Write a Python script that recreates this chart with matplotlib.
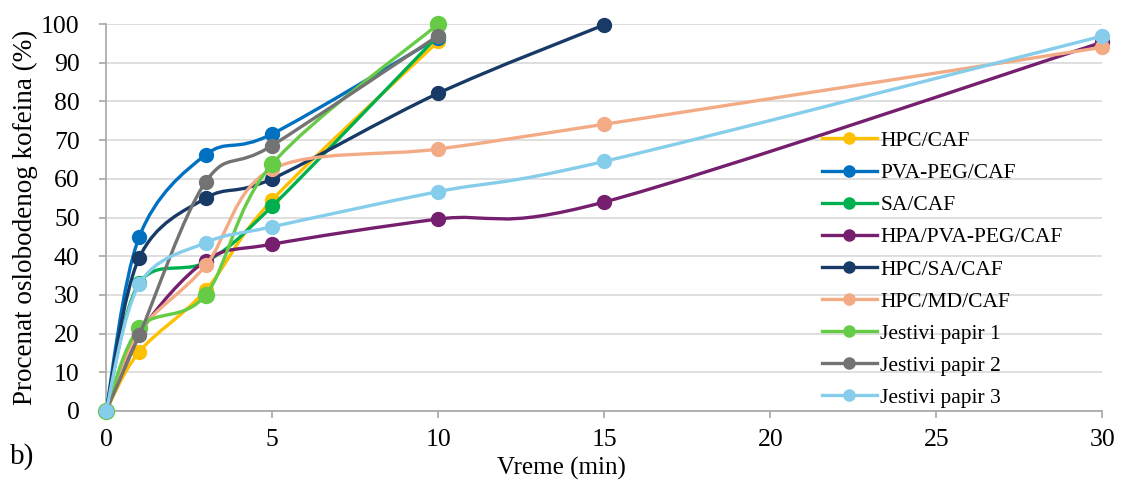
import numpy as np
import matplotlib
matplotlib.use("Agg")
import matplotlib.pyplot as plt
from matplotlib.path import Path
from matplotlib.patches import PathPatch
from matplotlib.lines import Line2D

plt.rcParams['font.family'] = ['Liberation Serif', 'DejaVu Serif']

# Release profiles: time (min) and released caffeine (%)
t_short = [0, 1, 3, 5, 10]
t_mid = [0, 1, 3, 5, 10, 15]
t_long = [0, 1, 3, 5, 10, 15, 30]

names = ["HPC/CAF", "PVA-PEG/CAF", "SA/CAF", "HPA/PVA-PEG/CAF", "HPC/SA/CAF",
         "HPC/MD/CAF", "Jestivi papir 1", "Jestivi papir 2", "Jestivi papir 3"]

hpc_caf = [0, 15.3, 31.2, 54.5, 95.5]
pva_peg_caf = [0, 45.0, 66.2, 71.6, 96.5]
sa_caf = [0, 33.0, 38.5, 52.9, 97.0]
hpa_pva_peg_caf = [0, 20.0, 38.8, 43.1, 49.6, 54.0, 95.3]
hpc_sa_caf = [0, 39.6, 55.0, 60.0, 82.1, 99.8]
hpc_md_caf = [0, 20.5, 37.6, 62.5, 67.7, 74.1, 94.0]
papir1 = [0, 21.5, 30.0, 63.8, 100.0]
papir2 = [0, 19.6, 59.2, 68.6, 97.0]
papir3 = [0, 32.7, 43.5, 47.6, 56.7, 64.5, 96.9]

times = [t_short, t_short, t_short, t_long, t_mid, t_long, t_short, t_short, t_long]
values = [hpc_caf, pva_peg_caf, sa_caf, hpa_pva_peg_caf, hpc_sa_caf,
          hpc_md_caf, papir1, papir2, papir3]
colors = ["#FFC000", "#0070C0", "#00B050", "#751F6E", "#183A66",
          "#F2AB85", "#66CC45", "#737373", "#86CDEC"]
msizes = [10, 10, 10, 10, 10, 10, 11.5, 10, 10]


def smooth_path(x, y):
    """Cubic Bezier path through the points, using the 1/6-tension rule."""
    pts = np.column_stack([x, y]).astype(float)
    n = len(pts)
    verts = [pts[0]]
    codes = [Path.MOVETO]
    for i in range(n - 1):
        p_prev = pts[i - 1] if i > 0 else pts[i]
        p0 = pts[i]
        p1 = pts[i + 1]
        p_next = pts[i + 2] if i + 2 < n else pts[i + 1]
        c1 = p0 + (p1 - p_prev) / 6.0
        c2 = p1 - (p_next - p0) / 6.0
        verts += [c1, c2, p1]
        codes += [Path.CURVE4] * 3
    return Path(verts, codes)


fig = plt.figure(figsize=(11.22, 4.91), dpi=100)
ax = fig.add_axes([0.0945, 0.163, 0.888, 0.788])

handles = []
for k, (name, x, y, c, ms) in enumerate(zip(names, times, values, colors, msizes)):
    z = 3 + k
    patch = PathPatch(smooth_path(x, y), facecolor='none', edgecolor=c,
                      lw=2.4, zorder=z, capstyle='round', joinstyle='round')
    ax.add_patch(patch)
    ax.plot(x, y, ls='none', marker='o', ms=ms, color=c, mec=c, zorder=z + 0.5,
            clip_on=False)
    handles.append(Line2D([0], [0], color=c, lw=2.4, marker='o', ms=8, mec=c))

ax.set_xlim(0, 30)
ax.set_ylim(0, 100)
ax.set_xticks(np.arange(0, 31, 5))
ax.set_yticks(np.arange(0, 101, 10))
ax.grid(axis='y', color='#D9D9D9', lw=1.2, zorder=0)
ax.set_axisbelow(True)
for s in ['top', 'right']:
    ax.spines[s].set_visible(False)
for s in ['left', 'bottom']:
    ax.spines[s].set_color('#A6A6A6')
    ax.spines[s].set_linewidth(1.2)
ax.tick_params(axis='both', colors='#A6A6A6', length=5, width=1.2,
               labelsize=18.5, labelcolor='black')
ax.tick_params(axis='x', pad=8)
ax.tick_params(axis='y', pad=14)

ax.set_ylabel("Procenat oslobodenog kofeina (%)", fontsize=19.5)
ax.yaxis.set_label_coords(-0.081, 0.5)
ax.yaxis.label.set_va('center')

fig.text(0.5, 0.045, "Vreme (min)", fontsize=18, ha='center', va='center')
fig.text(0.009, 0.071, "b)", fontsize=21, ha='left', va='center')

leg = ax.legend(handles, names, loc='upper left', bbox_to_anchor=(0.71, 0.746),
                frameon=False, fontsize=15.5, handlelength=2.55,
                handletextpad=0.15, labelspacing=0.56, borderaxespad=0)

fig.savefig("out.png", dpi=100)
